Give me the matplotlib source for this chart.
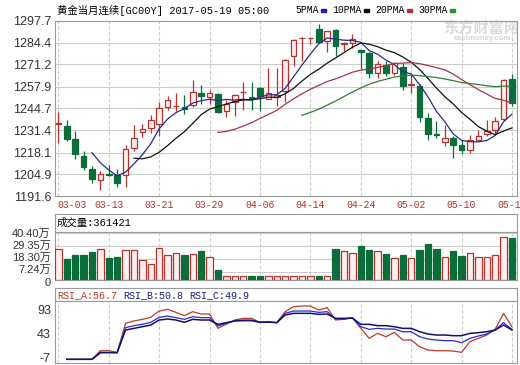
"""Gold continuous contract daily K-line with volume and RSI (2017-03-03 .. 2017-05-18)."""

import numpy as np
import pandas as pd
import matplotlib

matplotlib.use("Agg")
import matplotlib.pyplot as plt
from matplotlib.patches import Rectangle
from matplotlib.transforms import ScaledTranslation

plt.rcParams["font.family"] = ["Liberation Sans", "Noto Sans CJK SC", "DejaVu Sans"]

# daily OHLC
opens = [1235.5, 1233.9, 1226.3, 1215.9, 1208.3, 1201.4, 1205.4, 1204.4, 1204.4, 1220.8,
         1230.5, 1232.9, 1235.5, 1245.6, 1246.0, 1245.8, 1246.7, 1254.1, 1251.7, 1253.5,
         1243.0, 1248.7, 1254.4, 1251.5, 1256.8, 1250.5, 1251.5, 1255.1, 1276.0, 1287.0,
         1287.0, 1292.5, 1285.5, 1291.9, 1283.8, 1284.3, 1279.8, 1278.4, 1266.3, 1270.9,
         1266.3, 1269.9, 1259.1, 1258.2, 1239.0, 1229.2, 1224.2, 1226.9, 1222.4, 1219.8,
         1225.9, 1229.3, 1231.9, 1238.6, 1262.2]
highs = [1242.4, 1238.0, 1231.1, 1219.2, 1209.7, 1207.1, 1210.7, 1208.1, 1222.4, 1234.9,
         1235.4, 1241.0, 1248.7, 1252.1, 1253.7, 1252.5, 1261.6, 1258.8, 1255.6, 1253.9,
         1249.5, 1253.1, 1260.8, 1260.8, 1257.6, 1269.3, 1269.3, 1274.3, 1286.5, 1287.9,
         1287.9, 1295.6, 1291.5, 1292.5, 1284.5, 1289.5, 1280.0, 1279.0, 1273.3, 1273.3,
         1272.9, 1272.3, 1265.3, 1259.2, 1242.0, 1237.0, 1234.9, 1227.9, 1225.9, 1228.9,
         1231.9, 1238.0, 1239.4, 1262.2, 1265.7]
lows = [1223.8, 1225.2, 1214.5, 1207.5, 1199.6, 1195.5, 1204.2, 1197.6, 1197.6, 1218.8,
        1227.7, 1229.9, 1227.9, 1244.0, 1243.0, 1241.6, 1245.5, 1247.5, 1247.1, 1242.0,
        1239.4, 1240.0, 1244.0, 1244.0, 1243.4, 1250.1, 1246.0, 1248.3, 1270.0, 1273.3,
        1283.5, 1284.0, 1279.0, 1276.4, 1279.4, 1281.4, 1268.3, 1263.2, 1263.2, 1264.2,
        1264.6, 1255.6, 1254.1, 1236.6, 1225.9, 1226.9, 1221.8, 1215.1, 1217.8, 1217.8,
        1224.8, 1227.9, 1229.9, 1237.4, 1246.1]
closes = [1235.5, 1226.5, 1217.1, 1209.1, 1202.0, 1205.0, 1204.6, 1199.6, 1220.2, 1226.9,
          1232.3, 1238.0, 1244.8, 1249.5, 1246.2, 1244.4, 1254.7, 1252.1, 1253.7, 1242.6,
          1247.5, 1252.7, 1254.6, 1251.0, 1252.1, 1254.1, 1253.0, 1273.9, 1285.9, 1287.2,
          1287.2, 1284.5, 1291.1, 1282.4, 1284.0, 1286.3, 1279.0, 1266.3, 1271.3, 1266.3,
          1272.3, 1258.2, 1259.3, 1239.4, 1229.3, 1228.8, 1226.9, 1222.4, 1219.8, 1225.4,
          1227.9, 1231.3, 1237.4, 1261.6, 1248.1]

# volume in 万 (10k lots)
volumes = [27.0, 17.7, 21.2, 21.2, 23.8, 26.4, 18.6, 19.5, 26.2, 25.6,
           16.9, 14.0, 27.9, 21.8, 23.5, 21.2, 22.7, 24.7, 20.1, 8.4,
           3.8, 3.8, 3.8, 3.8, 3.8, 3.8, 3.8, 3.8, 3.8, 3.8,
           3.8, 3.8, 3.8, 26.4, 24.7, 23.0, 29.4, 25.6, 24.7, 22.1,
           18.6, 21.2, 18.9, 25.6, 30.8, 26.4, 20.1, 24.7, 20.3, 23.5,
           20.1, 19.5, 21.2, 36.6, 36.1421]
last_volume = 361421

nan = np.nan
rsi_a = [nan, -11.9, -11.9, -11.9, -11.9, 6.3, 6.3, 2.8, 63.9, 68.8,
         72.3, 76.5, 89.8, 93.3, 87.0, 80.0, 88.4, 83.5, 83.5, 53.3,
         62.5, 70.9, 74.4, 74.4, 66.0, 66.7, 65.3, 88.4, 99.0, 100.4,
         100.4, 91.9, 96.8, 70.9, 72.3, 75.8, 53.3, 32.3, 42.8, 35.8,
         44.9, 28.8, 28.8, 14.7, 7.7, 6.3, 6.3, 5.6, 2.8, 25.3,
         32.3, 39.3, 51.2, 84.9, 56.7]
rsi_b = [nan, -11.9, -11.9, -11.9, -11.9, 2.8, 2.8, 2.1, 54.7, 59.0,
         61.8, 66.0, 76.5, 79.3, 75.8, 72.3, 77.9, 75.8, 75.8, 58.3,
         63.9, 69.5, 70.9, 70.9, 66.0, 66.7, 65.3, 84.9, 89.8, 89.8,
         89.8, 87.0, 88.4, 73.0, 73.0, 75.1, 56.8, 51.2, 53.3, 51.9,
         51.9, 46.3, 46.3, 35.8, 30.9, 28.8, 27.4, 27.4, 23.2, 32.3,
         37.2, 41.4, 49.8, 65.3, 50.8]
rsi_c = [nan, -11.9, -11.9, -11.9, -11.9, 2.1, 2.1, 2.1, 49.8, 53.3,
         56.8, 60.4, 70.9, 73.0, 70.9, 66.0, 72.3, 70.9, 70.9, 61.8,
         65.3, 68.8, 69.5, 69.5, 66.0, 66.7, 65.3, 81.4, 84.9, 84.9,
         84.9, 82.8, 83.5, 74.4, 74.4, 75.1, 61.8, 61.8, 59.0, 59.0,
         56.8, 53.3, 53.3, 46.3, 41.4, 39.3, 39.3, 37.9, 37.9, 42.8,
         44.2, 46.3, 49.8, 60.4, 49.9]

date_labels = ["03-03", "03-13", "03-21", "03-29", "04-06", "04-14", "04-24", "05-02", "05-10", "05-18"]
date_index = [0, 6, 12, 18, 24, 30, 36, 42, 48, 54]
price_ticks = [1191.6, 1204.9, 1218.1, 1231.4, 1244.7, 1257.9, 1271.2, 1284.4, 1297.7]
vol_ticks = [0, 7.24, 18.30, 29.35, 40.40]
vol_tick_labels = ["0", "7.24万", "18.30万", "29.35万", "40.40万"]
rsi_ticks = [-7, 43, 93]
ma_windows = [5, 10, 20, 30]
ma_names = ["5PMA", "10PMA", "20PMA", "30PMA"]

red = "#b8312f"
pink = "#fff0f0"
green = "#0b6e3a"
grid_c = "#cccccc"
frame_c = "#9a9a9a"
ma_colors = ["#2b2b8c", "#111111", "#a8334a", "#2f7d2f"]
key_colors = ["#1f1fa8", "#111111", "#b8312f", "#2f8f2f"]
mono = ["Liberation Mono", "Noto Sans CJK SC", "DejaVu Sans"]

W, H = 520, 365


def box(left, top, right, bottom):
    return [left / W, 1 - bottom / H, (right - left) / W, (bottom - top) / H]


def frame(a):
    for s in a.spines.values():
        s.set_color(frame_c)
        s.set_linewidth(0.8)


def vgrid(a):
    for i in date_index:
        a.axvline(i, color=grid_c, lw=0.8, ls=(0, (3, 2)), zorder=0)


if __name__ == "__main__":
    o = np.array(opens)
    c = np.array(closes)
    x = np.arange(len(o))
    up = c >= o
    edge = np.where(up, red, green)
    face = np.where(up, pink, green)
    xlim = (-0.4, 54.6)

    fig = plt.figure(figsize=(5.2, 3.65), dpi=100)

    # ---- price panel
    ax = fig.add_axes(box(55, 20.5, 517, 196.5))
    frame(ax)
    for p in price_ticks[1:-1]:
        ax.axhline(p, color=grid_c, lw=0.8, zorder=0)
    vgrid(ax)
    ax.vlines(x, lows, highs, colors=edge, lw=0.9, zorder=2)
    ax.bar(x, np.maximum(np.abs(c - o), 0.15), bottom=np.minimum(o, c), width=0.68,
           color=face, edgecolor=edge, lw=0.9, zorder=3)
    close_s = pd.Series(closes)
    for win, col in zip(ma_windows, ma_colors):
        ax.plot(x, close_s.rolling(win).mean(), color=col, lw=0.9, zorder=4)
    ax.set_xlim(*xlim)
    ax.set_ylim(price_ticks[0], price_ticks[-1])
    ax.set_xticks([])
    ax.set_yticks(price_ticks, labels=[f"{p:.1f}" for p in price_ticks])
    ax.tick_params(axis="y", length=0, pad=2.5, labelsize=9, labelcolor="#333333")
    for lab, i in zip(date_labels, date_index):
        ax.text(i if i else -0.1, -0.05, lab, transform=ax.get_xaxis_transform(),
                ha="left" if i == 0 else "center", va="center",
                family=mono, size=7, color=red)
    ax.text(0.922, 0.957, "东方财富网", transform=ax.transAxes, ha="center", va="center",
            family=["Noto Sans CJK SC"], weight="bold", size=11, color="#dadada", zorder=0)
    ax.text(0.926, 0.895, "eastmoney.com", transform=ax.transAxes, ha="center", va="center",
            size=5.5, weight="bold", color="#d6d6d6", zorder=0)

    fig.text(57 / W, 1 - 10 / H, "黄金当月连续[GC00Y] 2017-05-19 05:00",
             family=mono, size=7.5, va="center")
    for name, col, tx, kx in zip(ma_names, key_colors, [295, 332, 375, 418], [321, 364, 407, 450]):
        fig.text(tx / W, 1 - 10 / H, name, family=mono, size=7, va="center")
        fig.patches.append(Rectangle((kx / W, 1 - 12 / H), 5 / W, 3 / H,
                                     transform=fig.transFigure, color=col))

    # ---- volume panel
    vt = fig.add_axes(box(55, 213.5, 517, 232))
    frame(vt)
    vt.set_xticks([])
    vt.set_yticks([])
    vt.text(2 / 462, 0.5, f"成交量:{last_volume}", transform=vt.transAxes,
            va="center", family=mono, size=7.5)

    av = fig.add_axes(box(55, 232, 517, 280))
    frame(av)
    for v in vol_ticks[1:]:
        av.axhline(v, color=grid_c, lw=0.8, zorder=0)
    vgrid(av)
    av.bar(x, volumes, width=0.75, color=face, edgecolor=edge, lw=0.9, zorder=3)
    av.set_xlim(*xlim)
    av.set_ylim(0, 41.3)
    av.set_xticks([])
    av.set_yticks(vol_ticks, labels=vol_tick_labels)
    av.tick_params(axis="y", length=0, pad=3, labelsize=8, labelcolor="#333333")
    # nudge the lowest labels apart, as the source chart does
    shifts = [-1.5, 2.0, 1.0, 0.5, 0.0]
    for lab, dy in zip(av.get_yticklabels(), shifts):
        lab.set_transform(lab.get_transform() + ScaledTranslation(0, dy / 72, fig.dpi_scale_trans))

    # ---- RSI panel
    rt = fig.add_axes(box(55, 287.5, 517, 301))
    frame(rt)
    rt.set_xticks([])
    rt.set_yticks([])
    rsi_cols = ["#c0392b", "#1c1c8f", "#1c1c8f"]
    parts = [f"RSI_A:{rsi_a[-1]:.1f}", f"RSI_B:{rsi_b[-1]:.1f}", f"RSI_C:{rsi_c[-1]:.1f}"]
    tx = 2
    for part, col in zip(parts, rsi_cols):
        rt.text(tx / 462, 0.45, part, transform=rt.transAxes, va="center",
                family=mono, size=7.2, color=col)
        tx += 66

    ar = fig.add_axes(box(55, 301, 517, 363))
    frame(ar)
    vgrid(ar)
    ar.plot(x, rsi_a, color="#c0392b", lw=0.9, zorder=3)
    ar.plot(x, rsi_b, color="#2a2ad0", lw=0.9, zorder=3)
    ar.plot(x, rsi_c, color="#101070", lw=1.1, zorder=3)
    ar.set_xlim(*xlim)
    ar.set_ylim(-19.6, 110.9)
    ar.set_xticks([])
    ar.set_yticks(rsi_ticks, labels=[str(t) for t in rsi_ticks])
    ar.tick_params(axis="y", length=0, pad=3, labelsize=9, labelcolor="#333333")

    fig.savefig("out.png", dpi=100)
    plt.close(fig)
